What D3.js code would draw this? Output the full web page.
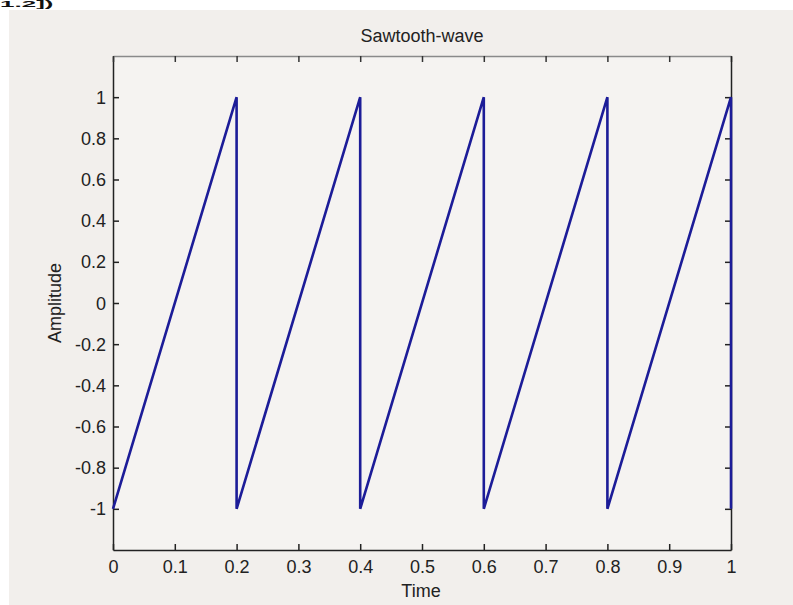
<!DOCTYPE html>
<html>
<head>
<meta charset="utf-8">
<script src="https://cdn.jsdelivr.net/npm/d3@7"></script>
<style>
  html, body { margin: 0; padding: 0; background: #ffffff; }
  svg { display: block; }
  text { font-family: "Liberation Sans", Arial, sans-serif; fill: #222; }
</style>
</head>
<body>
<svg id="chart" width="793" height="605"></svg>
<script>
// ---- data ----
const timeValues      = [0, 0.2, 0.2, 0.4, 0.4, 0.6, 0.6, 0.8, 0.8, 1, 1];
const amplitudeValues = [-1, 1, -1, 1, -1, 1, -1, 1, -1, 1, -1];
const xTickValues = [0, 0.1, 0.2, 0.3, 0.4, 0.5, 0.6, 0.7, 0.8, 0.9, 1];
const yTickValues = [-1, -0.8, -0.6, -0.4, -0.2, 0, 0.2, 0.4, 0.6, 0.8, 1];
const xDomain = [0, 1];
const yDomain = [-1.2, 1.2];
const titleText = "Sawtooth-wave";
const xLabelText = "Time";
const yLabelText = "Amplitude";
const cornerText = "1.2])";

// ---- layout ----
const W = 793, H = 605;
const plot = { left: 113, right: 731, top: 56, bottom: 550 };
const svg = d3.select("#chart");

// figure background
svg.append("rect").attr("x", 9).attr("y", 10).attr("width", W - 9).attr("height", H - 10)
  .attr("fill", "#f2efec");
// plot area
svg.append("rect").attr("x", plot.left).attr("y", plot.top)
  .attr("width", plot.right - plot.left).attr("height", plot.bottom - plot.top)
  .attr("fill", "#f5f3f1");

// corner text (only its lower part shows in the reference; squashed to fit)
svg.append("text").attr("transform", "translate(0,7) scale(1,0.32)")
  .style("font-size", "26px").style("font-weight", "bold").style("fill", "#111")
  .text(cornerText);

const x = d3.scaleLinear().domain(xDomain).range([plot.left, plot.right]);
const y = d3.scaleLinear().domain(yDomain).range([plot.bottom, plot.top]);

const fmt = d => String(+d.toFixed(1));

// axes (ticks inward)
const tickLen = 6;
const gBottom = svg.append("g").attr("transform", `translate(0,${plot.bottom})`)
  .call(d3.axisBottom(x).tickValues(xTickValues).tickFormat(fmt).tickSizeInner(-tickLen).tickSizeOuter(0).tickPadding(10));
const gLeft = svg.append("g").attr("transform", `translate(${plot.left},0)`)
  .call(d3.axisLeft(y).tickValues(yTickValues).tickFormat(fmt).tickSizeInner(-tickLen).tickSizeOuter(0).tickPadding(7));
const gTop = svg.append("g").attr("transform", `translate(0,${plot.top})`)
  .call(d3.axisTop(x).tickValues(xTickValues).tickFormat("").tickSizeInner(-tickLen).tickSizeOuter(0));
const gRight = svg.append("g").attr("transform", `translate(${plot.right},0)`)
  .call(d3.axisRight(y).tickValues(yTickValues).tickFormat("").tickSizeInner(-tickLen).tickSizeOuter(0));

[gBottom, gLeft, gRight].forEach(g => {
  g.select(".domain").attr("stroke", "#222").attr("stroke-width", 1.5);
  g.selectAll(".tick line").attr("stroke", "#222").attr("stroke-width", 1.5);
});
gTop.select(".domain").attr("stroke", "#8a8a8a").attr("stroke-width", 1.5);
gTop.selectAll(".tick line").attr("stroke", "#333").attr("stroke-width", 1.5);
[gBottom, gLeft].forEach(g => g.selectAll(".tick text")
  .style("font-family", "'Liberation Sans', Arial, sans-serif").style("font-size", "18px").attr("fill", "#222"));
gBottom.selectAll(".tick text").attr("dy", "0.71em");
gLeft.selectAll(".tick text").attr("dy", "0.34em");
[gBottom, gLeft, gTop, gRight].forEach(g => g.attr("font-family", null).attr("font-size", null));

// the line
const line = d3.line().x(i => x(timeValues[i])).y(i => y(amplitudeValues[i]));
svg.append("path").datum(d3.range(timeValues.length))
  .attr("d", line).attr("fill", "none")
  .attr("stroke", "#1c1c98").attr("stroke-width", 2.6).attr("stroke-linejoin", "miter");

// labels
svg.append("text").attr("x", (plot.left + plot.right) / 2).attr("y", 42)
  .attr("text-anchor", "middle").style("font-size", "18px").text(titleText);
svg.append("text").attr("x", (plot.left + plot.right) / 2 - 1).attr("y", 597)
  .attr("text-anchor", "middle").style("font-size", "18px").text(xLabelText);
svg.append("text").attr("transform", `translate(61,${(plot.top + plot.bottom) / 2}) rotate(-90)`)
  .attr("text-anchor", "middle").style("font-size", "18px").text(yLabelText);
</script>
</body>
</html>
